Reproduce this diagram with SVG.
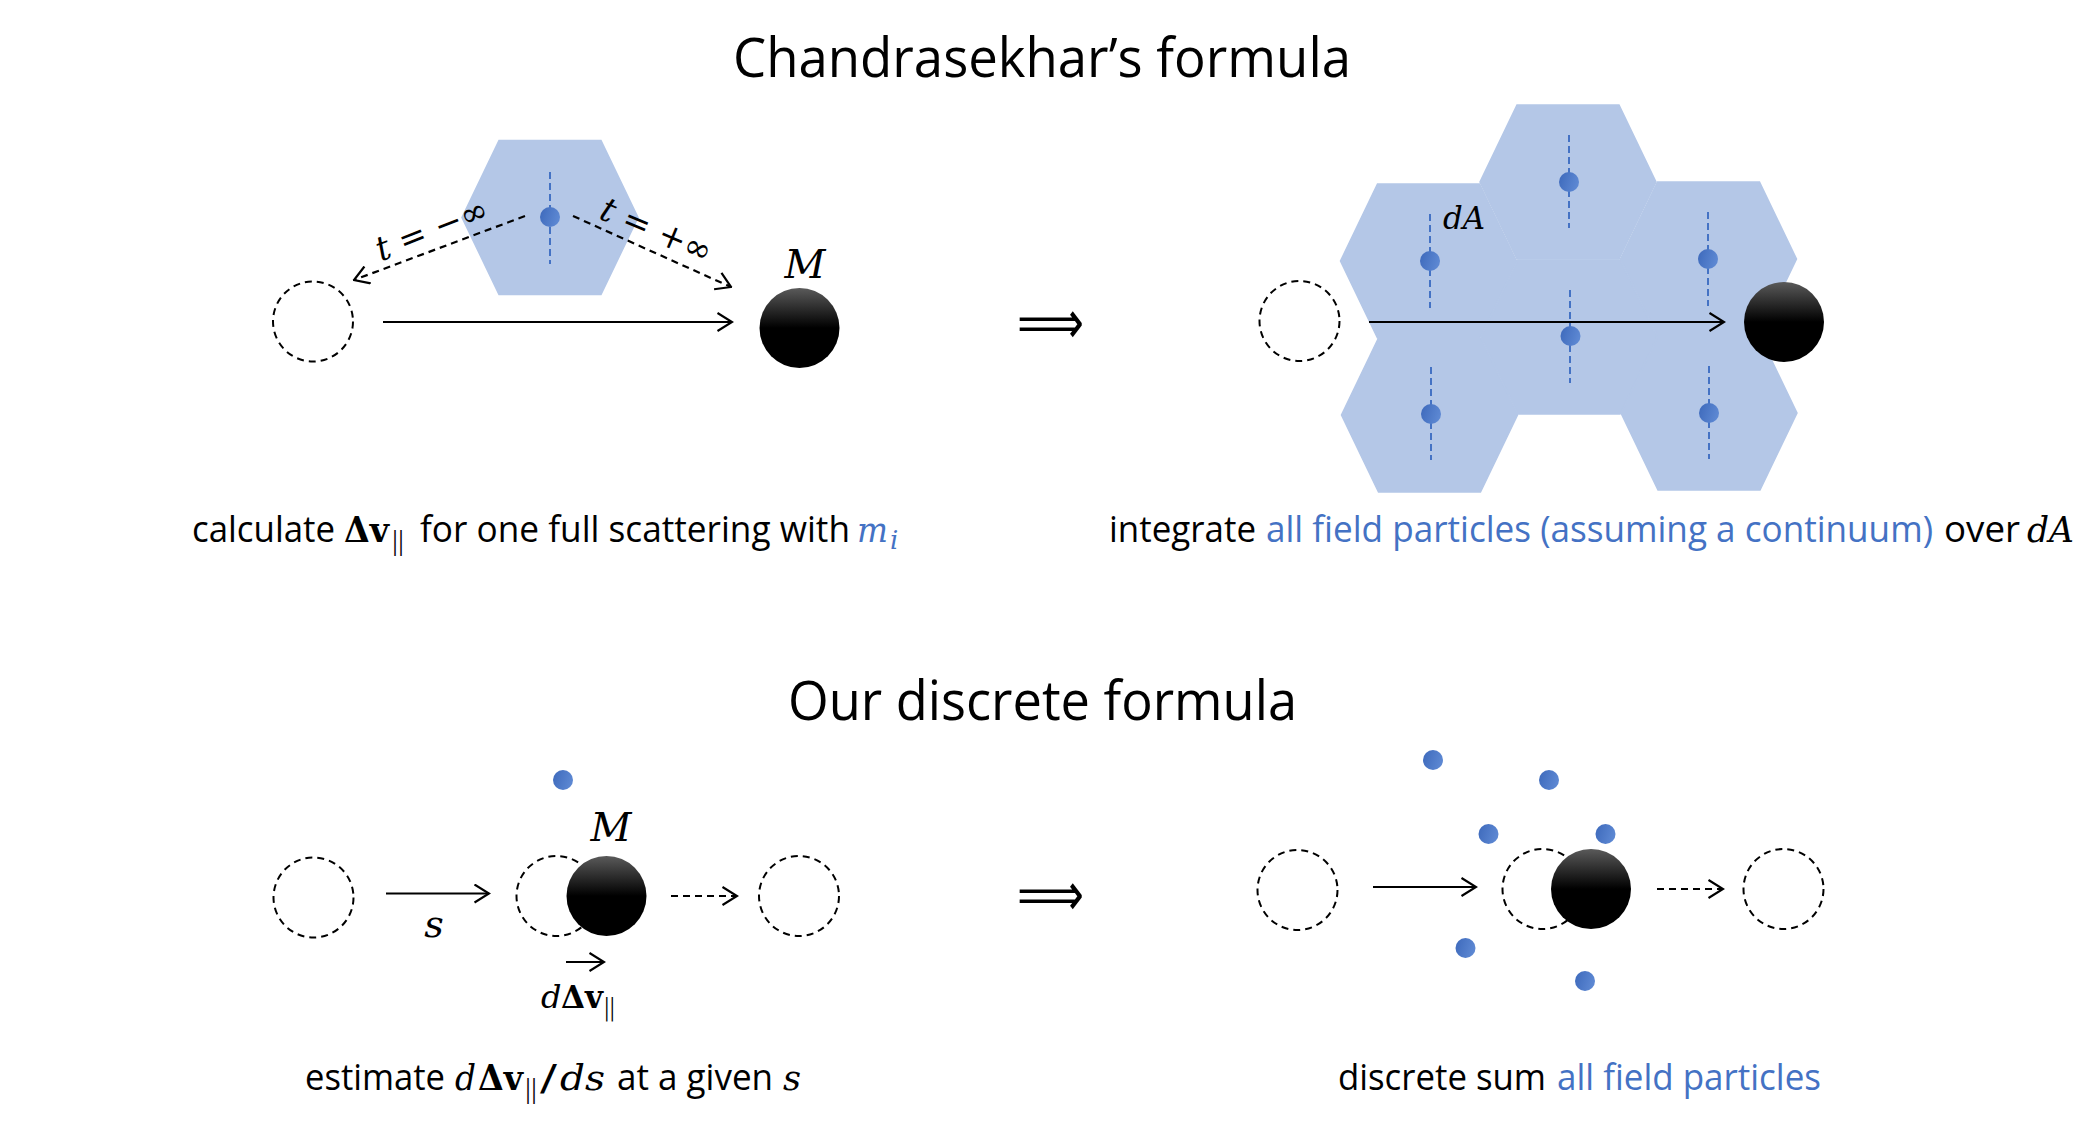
<svg xmlns="http://www.w3.org/2000/svg" width="2090" height="1126" viewBox="0 0 2090 1126">
<defs>
<style>
.title{font-family:"Open Sans","Liberation Sans",sans-serif;font-size:55px;fill:#000}
.cap{font-family:"Open Sans","Liberation Sans",sans-serif;font-size:36px;fill:#000}
.math{font-family:"DejaVu Serif","Liberation Serif",serif;font-style:italic;fill:#000}
.up{font-family:"DejaVu Serif","Liberation Serif",serif;font-style:normal}
.bold{font-family:"DejaVu Serif","Liberation Serif",serif;font-weight:bold;font-style:normal}
.blue{fill:#4472c4}
.hex{fill:#b4c7e7;stroke:#b4c7e7;stroke-width:1.5}
.ghost{fill:none;stroke:#000;stroke-width:2;stroke-dasharray:7 5}
.arrow{stroke:#000;stroke-width:2.2;fill:none;marker-end:url(#open)}
.dashed{stroke-dasharray:7 5}
.ref{stroke:#4472c4;stroke-width:2;stroke-dasharray:7 4}
.dot{fill:url(#dotg)}
.ball{fill:url(#ballg)}
.imp{font-family:"DejaVu Sans","Liberation Sans",sans-serif;font-size:60px;fill:#000}
</style>
<marker id="open" viewBox="0 0 17 20" refX="15.5" refY="10" markerWidth="17" markerHeight="20" markerUnits="userSpaceOnUse" orient="auto">
<path d="M1,1 L15.5,10 L1,19" fill="none" stroke="#000" stroke-width="2.2"/>
</marker>
<linearGradient id="ballg" x1="0" y1="0" x2="0" y2="1">
<stop offset="0" stop-color="#5a5a5a"/><stop offset="0.5" stop-color="#000"/><stop offset="1" stop-color="#000"/>
</linearGradient>
<linearGradient id="dotg" x1="0" y1="0" x2="1" y2="0.3">
<stop offset="0" stop-color="#3d69bb"/><stop offset="1" stop-color="#5c87d2"/>
</linearGradient>
<polygon id="hexshape" points="-51,-77 51,-77 88,0 51,77 -51,77 -88,0"/>
</defs>
<rect width="2090" height="1126" fill="#fff"/>

<g id="title-chandrasekhar"><text class="title" x="733" y="77" textLength="618" lengthAdjust="spacingAndGlyphs">Chandrasekhar’s formula</text></g>
<g id="title-discrete"><text class="title" x="788" y="720" textLength="509" lengthAdjust="spacingAndGlyphs">Our discrete formula</text></g>

<!-- Top-left: single scattering -->
<g id="hex-single">
<use href="#hexshape" class="hex" transform="translate(550,217.5)"/>
<line class="ref" x1="550" y1="172" x2="550" y2="264"/>
<circle class="dot" cx="550" cy="217" r="10"/>
</g>
<g id="ghost-start-1"><circle class="ghost" cx="313" cy="321.5" r="40"/></g>
<g id="body-M-1">
<circle class="ball" cx="799.5" cy="328" r="40"/>
<text class="math" font-size="40" x="805" y="278" text-anchor="middle">M</text>
</g>

<!-- Top-right: continuum of hexagons -->
<g id="ghost-start-2"><circle class="ghost" cx="1299.5" cy="321" r="40"/></g>
<g id="hex-cluster">
<use href="#hexshape" class="hex" transform="translate(1568,182)"/>
<use href="#hexshape" class="hex" transform="translate(1428.5,261)"/>
<use href="#hexshape" class="hex" transform="translate(1429.5,415)"/>
<use href="#hexshape" class="hex" transform="translate(1569,337)"/>
<use href="#hexshape" class="hex" transform="translate(1708.5,259)"/>
<use href="#hexshape" class="hex" transform="translate(1709,413)"/>
<line class="ref" x1="1569" y1="135" x2="1569" y2="228"/>
<line class="ref" x1="1430" y1="214" x2="1430" y2="308"/>
<line class="ref" x1="1708" y1="212" x2="1708" y2="306"/>
<line class="ref" x1="1570" y1="290" x2="1570" y2="383"/>
<line class="ref" x1="1431" y1="367" x2="1431" y2="460"/>
<line class="ref" x1="1709" y1="366" x2="1709" y2="459"/>
<circle class="dot" cx="1569" cy="182" r="10"/>
<circle class="dot" cx="1430" cy="261" r="10"/>
<circle class="dot" cx="1708" cy="259" r="10"/>
<circle class="dot" cx="1570.5" cy="336" r="10"/>
<circle class="dot" cx="1431" cy="414" r="10"/>
<circle class="dot" cx="1709" cy="413" r="10"/>
<text class="math" font-size="32" x="1443" y="229" textLength="42" lengthAdjust="spacingAndGlyphs">dA</text>
</g>
<g id="body-M-2"><circle class="ball" cx="1784" cy="322" r="40"/></g>

<!-- Bottom-left -->
<g id="ghost-b1"><circle class="ghost" cx="313.5" cy="897.5" r="40"/></g>
<g id="ghost-b2"><circle class="ghost" cx="556.5" cy="896" r="40"/></g>
<g id="ghost-b3"><circle class="ghost" cx="799" cy="896" r="40"/></g>
<g id="field-b"><circle class="dot" cx="563" cy="780" r="10"/></g>
<g id="body-M-3">
<circle class="ball" cx="606.5" cy="896" r="40"/>
<text class="math" font-size="40" x="611" y="841" text-anchor="middle">M</text>
</g>

<!-- Bottom-right -->
<g id="ghost-c1"><circle class="ghost" cx="1297.5" cy="890" r="40"/></g>
<g id="ghost-c2"><circle class="ghost" cx="1542.5" cy="889" r="40"/></g>
<g id="ghost-c3"><circle class="ghost" cx="1783.5" cy="889" r="40"/></g>
<g id="body-M-4"><circle class="ball" cx="1591" cy="889" r="40"/></g>
<g id="field-c">
<circle class="dot" cx="1433" cy="760" r="10"/>
<circle class="dot" cx="1549" cy="780" r="10"/>
<circle class="dot" cx="1488.5" cy="834" r="10"/>
<circle class="dot" cx="1605.5" cy="834" r="10"/>
<circle class="dot" cx="1465.5" cy="948" r="10"/>
<circle class="dot" cx="1585" cy="981" r="10"/>
</g>

<!-- Connectors -->
<g id="connectors">
<line class="arrow dashed" x1="525" y1="216" x2="354" y2="280"/>
<line class="arrow dashed" x1="573" y1="216" x2="731" y2="287"/>
<line class="arrow" x1="383" y1="322" x2="732" y2="322"/>
<line class="arrow" x1="1369" y1="322" x2="1724" y2="322"/>
<line class="arrow" x1="386" y1="893.5" x2="489" y2="893.5"/>
<line class="arrow dashed" x1="671" y1="896" x2="737" y2="896"/>
<line class="arrow" x1="566" y1="962" x2="604" y2="962"/>
<line class="arrow" x1="1373" y1="887" x2="1476" y2="887"/>
<line class="arrow dashed" x1="1657" y1="889" x2="1723" y2="889"/>
</g>

<g id="label-t-minus"><text class="math" font-size="34" x="436" y="240" text-anchor="middle" transform="rotate(-21.5 436 240)" textLength="118" lengthAdjust="spacingAndGlyphs">t<tspan class="up"> = −∞</tspan></text></g>
<g id="label-t-plus"><text class="math" font-size="34" x="652" y="241" text-anchor="middle" transform="rotate(23 652 241)" textLength="118" lengthAdjust="spacingAndGlyphs">t<tspan class="up"> = +∞</tspan></text></g>

<g id="label-s"><text class="math" font-size="38" x="434" y="937" text-anchor="middle">s</text></g>
<g id="label-dv">
<text class="math" font-size="32" x="541" y="1008">d</text>
<text class="bold" font-size="32" x="561" y="1008" textLength="42" lengthAdjust="spacingAndGlyphs">Δv</text>
<text class="up" font-size="24" x="604" y="1015" textLength="11" lengthAdjust="spacingAndGlyphs">||</text>
</g>

<g id="implies-1"><text class="imp" x="1017" y="343" textLength="67" lengthAdjust="spacingAndGlyphs">⟹</text></g>
<g id="implies-2"><text class="imp" x="1017" y="915" textLength="67" lengthAdjust="spacingAndGlyphs">⟹</text></g>

<!-- Captions -->
<g id="caption-1">
<text class="cap" x="192" y="542" textLength="143" lengthAdjust="spacingAndGlyphs">calculate</text>
<text class="bold" font-size="36" x="344" y="542" textLength="45" lengthAdjust="spacingAndGlyphs">Δv</text>
<text class="up" font-size="26" x="392" y="550" textLength="12" lengthAdjust="spacingAndGlyphs">||</text>
<text class="cap" x="420" y="542" textLength="430" lengthAdjust="spacingAndGlyphs">for one full scattering with</text>
<text class="math blue" font-size="36" x="857" y="542" textLength="31" lengthAdjust="spacingAndGlyphs">m</text>
<text class="math blue" font-size="26" x="890" y="549">i</text>
</g>
<g id="caption-2">
<text class="cap" x="1109" y="542" textLength="147" lengthAdjust="spacingAndGlyphs">integrate</text>
<text class="cap blue" x="1266" y="542" textLength="667" lengthAdjust="spacingAndGlyphs">all field particles (assuming a continuum)</text>
<text class="cap" x="1944" y="542" textLength="76" lengthAdjust="spacingAndGlyphs">over</text>
<text class="math" font-size="36" x="2027" y="542" textLength="47" lengthAdjust="spacingAndGlyphs">dA</text>
</g>
<g id="caption-3">
<text class="cap" x="305" y="1090" textLength="140" lengthAdjust="spacingAndGlyphs">estimate</text>
<text class="math" font-size="36" x="455" y="1090" textLength="21" lengthAdjust="spacingAndGlyphs">d</text>
<text class="bold" font-size="36" x="478" y="1090" textLength="45" lengthAdjust="spacingAndGlyphs">Δv</text>
<text class="up" font-size="26" x="525" y="1098" textLength="12" lengthAdjust="spacingAndGlyphs">||</text>
<text class="up" font-size="36" x="540" y="1090" textLength="17" lengthAdjust="spacingAndGlyphs">/</text>
<text class="math" font-size="36" x="560" y="1090" textLength="45" lengthAdjust="spacingAndGlyphs">ds</text>
<text class="cap" x="617" y="1090" textLength="156" lengthAdjust="spacingAndGlyphs">at a given</text>
<text class="math" font-size="36" x="783" y="1090" textLength="18" lengthAdjust="spacingAndGlyphs">s</text>
</g>
<g id="caption-4">
<text class="cap" x="1338" y="1090" textLength="208" lengthAdjust="spacingAndGlyphs">discrete sum</text>
<text class="cap blue" x="1557" y="1090" textLength="264" lengthAdjust="spacingAndGlyphs">all field particles</text>
</g>
</svg>
